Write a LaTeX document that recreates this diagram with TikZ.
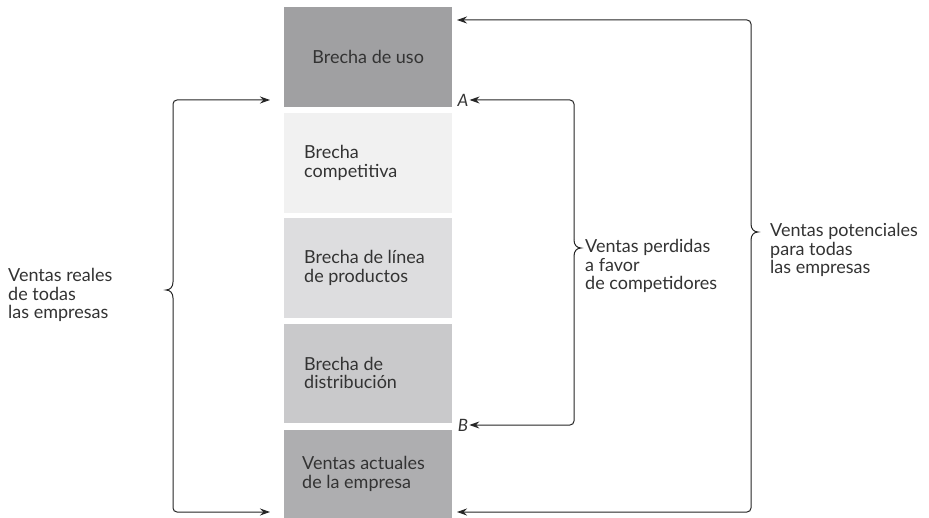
\documentclass[tikz,border=0pt]{standalone}
\usepackage{fontspec}
\setmainfont{Lato}
\usetikzlibrary{arrows.meta}
\definecolor{gA}{HTML}{A0A0A2}
\definecolor{gB}{HTML}{F1F1F1}
\definecolor{gC}{HTML}{DDDDDF}
\definecolor{gD}{HTML}{C9C9CB}
\definecolor{gE}{HTML}{AEAEB0}
\definecolor{txt}{HTML}{333333}
\begin{document}
\begin{tikzpicture}[x=1pt,y=-1pt,
  font=\fontsize{18}{18.5}\selectfont,
  box/.style={draw=none, minimum width=168pt, inner sep=0pt, anchor=north west},
  lbl/.style={text=txt, align=left, inner sep=0pt, anchor=west},
  conn/.style={draw=black!85, line width=1pt, rounded corners=4pt},
  tip/.style={-{Stealth[length=10pt,width=7pt]}}]
\useasboundingbox (0,0) rectangle (929,518);
\fill[white] (0,0) rectangle (929,518);
% boxes
\node[box, fill=gA, minimum height=100pt] (b1) at (284,7) {};
\node[box, fill=gB, minimum height=100pt] (b2) at (284,113) {};
\node[box, fill=gC, minimum height=100pt] (b3) at (284,218) {};
\node[box, fill=gD, minimum height=99pt] (b4) at (284,324) {};
\node[box, fill=gE, minimum height=88pt] (b5) at (284,430) {};
\node[text=txt, inner sep=0pt] (t1) at (b1.center) {Brecha de uso};
\node[lbl] (t2) at (304,163) {Brecha\\competitiva};
\node[lbl] (t3) at (304,268) {Brecha de línea\\de productos};
\node[lbl] (t4) at (304,373) {Brecha de\\distribución};
\node[lbl] (t5) at (302,474) {Ventas actuales\\de la empresa};
% A, B labels
\node[text=txt, inner sep=1pt, font=\fontsize{17}{18.5}\selectfont\itshape] (A) at (463,100) {A};
\node[text=txt, inner sep=1pt, font=\fontsize{17}{18.5}\selectfont\itshape] (B) at (463,425) {B};
% side labels
\node[lbl] (L) at (8,295) {Ventas reales\\de todas\\las empresas};
\node[lbl] (M) at (585,266) {Ventas perdidas\\a favor\\de competidores};
\node[lbl] (R) at (770,250) {Ventas potenciales\\para todas\\las empresas};
% arrow tip coordinates
\coordinate (l1) at (270,100);
\coordinate (l2) at (270,512);
\coordinate (r1) at (457,20);
\coordinate (r2) at (457,512);
% left bracket
\draw[conn, tip] (173,282) -- (173,100) -- (l1);
\draw[conn, tip] (173,298) -- (173,512) -- (l2);
\draw[conn, rounded corners=0pt] (173,282) .. controls (173,287) and (170,290) .. (166,290)
  .. controls (170,290) and (173,293) .. (173,298);
% middle bracket
\draw[conn, tip] (574,240) -- (574,100) -- (A.east);
\draw[conn, tip] (574,256) -- (574,425) -- (B.east);
\draw[conn, rounded corners=0pt] (574,240) .. controls (574,245) and (577,248) .. (581,248)
  .. controls (577,248) and (574,251) .. (574,256);
% right bracket
\draw[conn, tip] (751,224) -- (751,20) -- (r1);
\draw[conn, tip] (751,240) -- (751,512) -- (r2);
\draw[conn, rounded corners=0pt] (751,224) .. controls (751,229) and (754,232) .. (758,232)
  .. controls (754,232) and (751,235) .. (751,240);
\end{tikzpicture}
\end{document}
